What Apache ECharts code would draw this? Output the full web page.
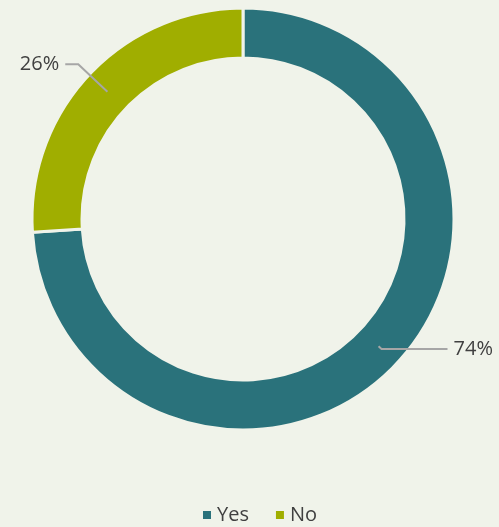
<!DOCTYPE html>
<html>
<head>
<meta charset="utf-8">
<script src="https://cdn.jsdelivr.net/npm/echarts@6/dist/echarts.min.js"></script>
<style>
  html, body { margin: 0; padding: 0; background: #f0f3ea; }
  #chart { width: 499px; height: 527px; }
</style>
</head>
<body>
<div id="chart"></div>
<script>
// 数据
var categories = ['Yes', 'No'];
var values = [74, 26];
var colors = ['#2a727b', '#a0ae00'];

var echart = echarts.init(document.getElementById('chart'));

var ringData = categories.map(function (name, i) {
    return { name: name, value: values[i], itemStyle: { color: colors[i] } };
});

// 标签线长度（每项不同）
var lineLen = [
    { length: 4, length2: 66 },
    { length: 40, length2: 13 }
];
var labelData = categories.map(function (name, i) {
    return { name: name, value: values[i], labelLine: lineLen[i] };
});

var option = {
    backgroundColor: '#f0f3ea',
    legend: {
        bottom: -3,
        left: 196,
        itemWidth: 10,
        itemHeight: 10,
        itemGap: 25,
        itemTextGap: 5,
        icon: 'rect',
        textStyle: { color: '#404040', fontSize: 20, fontFamily: 'Open Sans' },
        data: categories
    },
    series: [
        {
            type: 'pie',
            center: [243, 219],
            radius: [161, 211],
            startAngle: 90,
            clockwise: true,
            silent: true,
            label: { show: false },
            labelLine: { show: false },
            itemStyle: { borderColor: '#f0f3ea', borderWidth: 3 },
            data: ringData
        },
        {
            // 透明的中间圆，用来放标签和引线
            type: 'pie',
            center: [243, 219],
            radius: [0, 186],
            startAngle: 90,
            clockwise: true,
            silent: true,
            itemStyle: { color: 'rgba(0,0,0,0)' },
            label: {
                show: true,
                position: 'outside',
                formatter: '{d}%',
                color: '#404040',
                fontSize: 20,
                fontFamily: 'Open Sans',
                distanceToLabelLine: 6,
                overflow: 'none',
                edgeDistance: 0,
                bleedMargin: 0
            },
            labelLine: {
                show: true,
                lineStyle: { color: '#a6a6a6', width: 2 }
            },
            data: labelData,
            z: 3
        }
    ]
};

echart.setOption(option);
</script>
</body>
</html>
